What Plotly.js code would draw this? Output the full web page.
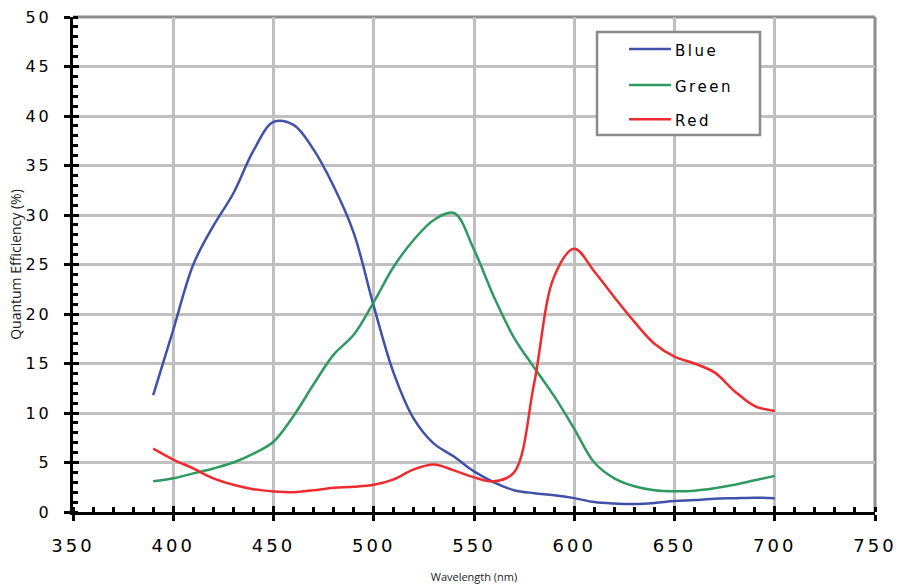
<!DOCTYPE html>
<html>
<head>
<meta charset="utf-8">
<script src="https://cdn.plot.ly/plotly-3.0.1.min.js"></script>
<style>
  html, body { margin: 0; padding: 0; background: #fff; }
  #chart { width: 901px; height: 588px; }
  .xtick text, .ytick text { letter-spacing: 3px; }
  .annotation-text { letter-spacing: 2.5px; }
</style>
</head>
<body>
<div id="chart"></div>
<script>
const wavelength = [390,400,410,420,430,440,450,460,470,480,490,500,510,520,530,540,550,560,570,580,590,600,610,620,630,640,650,660,670,680,690,700];
const blueQE  = [11.8,18.4,25.0,28.9,32.2,36.5,39.4,39.1,36.6,32.9,28.2,20.8,14.0,9.4,6.9,5.6,4.1,3.0,2.2,1.9,1.7,1.4,1.0,0.85,0.8,0.9,1.1,1.2,1.35,1.4,1.45,1.4];
const greenQE = [3.1,3.4,3.9,4.4,5.0,5.9,7.1,9.7,12.9,15.9,17.9,21.2,24.8,27.5,29.5,30.2,26.5,21.7,17.6,14.6,11.7,8.4,5.0,3.4,2.6,2.2,2.1,2.15,2.4,2.75,3.2,3.65];
const redQE   = [6.4,5.3,4.4,3.4,2.75,2.3,2.08,2.0,2.2,2.45,2.55,2.75,3.3,4.3,4.8,4.2,3.5,3.1,4.0,13.0,23.8,26.6,24.3,21.7,19.2,17.0,15.7,15.0,14.1,12.2,10.7,10.2];
const seriesNames = ['Blue','Green','Red'];
const seriesColors = ['#3F52A8','#2F9A5F','#EE2B2E'];
const xTitle = 'Wavelength (nm)';
const yTitle = 'Quantum Efficiency (%)';

const series = [blueQE, greenQE, redQE];
const traces = series.map((vals, i) => ({
  type: 'scatter', mode: 'lines',
  x: wavelength, y: vals,
  name: seriesNames[i],
  showlegend: false,
  line: { color: seriesColors[i], width: 2.5, shape: 'spline', smoothing: 1 },
  hoverinfo: 'skip'
}));
// invisible helper trace so the overlay tick axes get drawn
traces.push({ type: 'scatter', x: [], y: [], xaxis: 'x2', yaxis: 'y2', showlegend: false, hoverinfo: 'skip' });

const tickFontX = { family: 'DejaVu Sans, Verdana, sans-serif', size: 18, color: '#000' };
const tickFontY = { family: 'DejaVu Sans, Verdana, sans-serif', size: 16, color: '#000' };
const legendFont = { family: 'DejaVu Sans, Verdana, sans-serif', size: 15, color: '#000' };

// legend box (paper coordinates of the plot area)
const legBox = { x0: 0.6534, x1: 0.8566, y0: 0.7616, y1: 0.9697 };
const legLineX = [0.6933, 0.7456];
const legLineY = [0.9354, 0.8626, 0.7933];
const legTextY = [0.9313, 0.8586, 0.7899];
const legTextX = 0.7481;

const shapes = [
  { type: 'line', xref: 'paper', yref: 'paper', x0: 0, x1: 1, y0: 1, y1: 1, line: { color: '#8c8c8c', width: 3 }, layer: 'below' },
  { type: 'line', xref: 'paper', yref: 'paper', x0: 1, x1: 1, y0: 0, y1: 1, line: { color: '#8c8c8c', width: 3 }, layer: 'below' },
  { type: 'rect', xref: 'paper', yref: 'paper', x0: legBox.x0, x1: legBox.x1, y0: legBox.y0, y1: legBox.y1,
    fillcolor: '#fff', line: { color: '#8a8a8a', width: 2.5 }, layer: 'above' }
];
const annotations = [];
seriesNames.forEach((nm, i) => {
  shapes.push({ type: 'line', xref: 'paper', yref: 'paper', x0: legLineX[0], x1: legLineX[1], y0: legLineY[i], y1: legLineY[i],
    line: { color: seriesColors[i], width: 2.5 }, layer: 'above' });
  annotations.push({ xref: 'paper', yref: 'paper', x: legTextX, y: legTextY[i], xanchor: 'left', yanchor: 'middle',
    text: nm, showarrow: false, font: legendFont });
});

const layout = {
  width: 901, height: 588,
  margin: { l: 73, r: 26, t: 17, b: 76 },
  paper_bgcolor: '#fff', plot_bgcolor: '#fff',
  showlegend: false,
  xaxis: {
    range: [350, 750], tick0: 350, dtick: 50,
    showgrid: true, gridcolor: '#c0c0c0', gridwidth: 3,
    zeroline: false,
    showline: true, linecolor: '#000', linewidth: 3,
    ticks: 'outside', ticklen: 6, tickwidth: 3, tickcolor: '#000',
    minor: { dtick: 10, ticks: 'inside', ticklen: 5, tickwidth: 3, tickcolor: '#000', showgrid: false },
    tickfont: tickFontX, ticklabelstandoff: 9,
    title: { text: xTitle, font: { family: 'Open Sans, sans-serif', size: 11, color: '#222' }, standoff: 19 },
    fixedrange: true
  },
  yaxis: {
    range: [0, 50], tick0: 0, dtick: 5,
    showgrid: true, gridcolor: '#c0c0c0', gridwidth: 3,
    zeroline: false,
    showline: true, linecolor: '#000', linewidth: 3,
    ticks: 'outside', ticklen: 6, tickwidth: 3, tickcolor: '#000',
    minor: { dtick: 1, ticks: 'inside', ticklen: 5, tickwidth: 3, tickcolor: '#000', showgrid: false },
    tickfont: tickFontY, ticklabelstandoff: 9,
    title: { text: yTitle, font: { family: 'Open Sans, sans-serif', size: 14, color: '#222' }, standoff: 0 },
    fixedrange: true
  },
  xaxis2: {
    overlaying: 'x', anchor: 'y', range: [350, 750], tick0: 350, dtick: 50,
    showgrid: false, zeroline: false, showline: false, showticklabels: false,
    ticks: 'inside', ticklen: 6, tickwidth: 3, tickcolor: '#000', side: 'bottom', fixedrange: true
  },
  yaxis2: {
    overlaying: 'y', anchor: 'x', range: [0, 50], tick0: 0, dtick: 5,
    showgrid: false, zeroline: false, showline: false, showticklabels: false,
    ticks: 'inside', ticklen: 6, tickwidth: 3, tickcolor: '#000', side: 'left', fixedrange: true
  },
  shapes: shapes,
  annotations: annotations
};

Plotly.newPlot('chart', traces, layout, { displayModeBar: false, staticPlot: true });
</script>
</body>
</html>
